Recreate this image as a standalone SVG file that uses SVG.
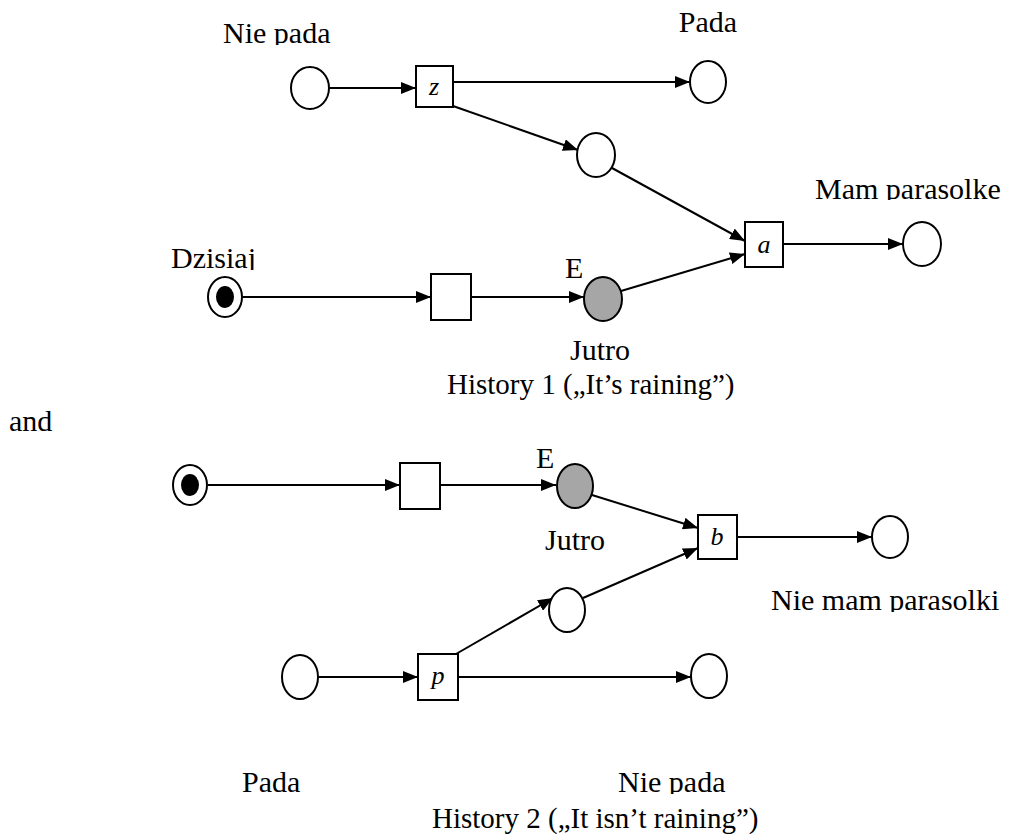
<svg xmlns="http://www.w3.org/2000/svg" width="1016" height="834" viewBox="0 0 1016 834">
  <style>
    .place { fill: #fff; stroke: #000; stroke-width: 2; }
    .grey { fill: #a6a6a6; stroke: #000; stroke-width: 2; }
    .trans { fill: #fff; stroke: #000; stroke-width: 2; }
    .arc { fill: none; stroke: #000; stroke-width: 2; marker-end: url(#arrow); }
    text { font-family: "Liberation Serif", "Times New Roman", serif; font-size: 30px; fill: #000; }
    .lbl { font-style: italic; text-anchor: middle; font-size: 26px; }
    .caption { font-size: 29px; }
  </style>
  <defs>
    <marker id="arrow" viewBox="0 0 15 12" refX="15" refY="6" markerWidth="15" markerHeight="12" markerUnits="userSpaceOnUse" orient="auto">
      <path d="M0,0 L15,6 L0,12 Z" fill="#000"/>
    </marker>
    <!-- label boxes that cut off descenders -->
    <clipPath id="cut-niepada1"><rect x="0" y="0" width="1016" height="45"/></clipPath>
    <clipPath id="cut-mam"><rect x="0" y="150" width="1016" height="50"/></clipPath>
    <clipPath id="cut-dzisiaj"><rect x="0" y="230" width="1016" height="40"/></clipPath>
    <clipPath id="cut-niemam"><rect x="0" y="570" width="1016" height="42"/></clipPath>
    <clipPath id="cut-niepada2"><rect x="0" y="750" width="1016" height="44"/></clipPath>
  </defs>
  <rect width="1016" height="834" fill="#fff"/>

  <!-- History 1 -->
  <g id="connectors1">
    <line class="arc" x1="329" y1="88" x2="416" y2="88"/>
    <line class="arc" x1="453" y1="82" x2="690" y2="82"/>
    <line class="arc" x1="453" y1="106" x2="578" y2="150"/>
    <line class="arc" x1="612" y1="168" x2="745" y2="241"/>
    <line class="arc" x1="783" y1="244" x2="903" y2="244"/>
    <line class="arc" x1="243" y1="297" x2="431" y2="297"/>
    <line class="arc" x1="471" y1="297" x2="584" y2="297"/>
    <line class="arc" x1="621" y1="291" x2="745" y2="254"/>
  </g>
  <g id="p-niepada1">
    <ellipse class="place" cx="310" cy="88" rx="19" ry="21"/>
    <text x="223" y="43" clip-path="url(#cut-niepada1)">Nie pada</text>
  </g>
  <g id="t-z">
    <rect class="trans" x="416" y="66" width="37" height="41"/>
    <text class="lbl" x="434" y="95">z</text>
  </g>
  <g id="p-pada1">
    <ellipse class="place" cx="708" cy="82" rx="18" ry="21"/>
    <text x="708" y="32" text-anchor="middle">Pada</text>
  </g>
  <g id="p-mid1">
    <ellipse class="place" cx="596" cy="155" rx="19" ry="22"/>
  </g>
  <g id="t-a">
    <rect class="trans" x="745" y="222" width="38" height="45"/>
    <text class="lbl" x="764" y="253">a</text>
  </g>
  <g id="p-mam">
    <ellipse class="place" cx="922" cy="244" rx="19" ry="22"/>
    <text x="815" y="199" clip-path="url(#cut-mam)">Mam parasolke</text>
  </g>
  <g id="p-dzisiaj1">
    <ellipse class="place" cx="225" cy="297" rx="17" ry="20"/>
    <ellipse cx="225" cy="297" rx="9" ry="11" fill="#000"/>
    <text x="171" y="268" clip-path="url(#cut-dzisiaj)">Dzisiaj</text>
  </g>
  <g id="t-1">
    <rect class="trans" x="431" y="274" width="40" height="46"/>
  </g>
  <g id="p-jutro1">
    <ellipse class="grey" cx="603" cy="299" rx="19" ry="22"/>
    <text x="565" y="278">E</text>
    <text x="570" y="360">Jutro</text>
  </g>
  <text class="caption" x="447" y="394">History 1 („It’s raining”)</text>
  <text x="9" y="431">and</text>

  <!-- History 2 -->
  <g id="connectors2">
    <line class="arc" x1="208" y1="485" x2="400" y2="485"/>
    <line class="arc" x1="440" y1="485" x2="556" y2="485"/>
    <line class="arc" x1="592" y1="495" x2="698" y2="528"/>
    <line class="arc" x1="737" y1="537" x2="872" y2="537"/>
    <line class="arc" x1="456" y1="654" x2="553" y2="598"/>
    <line class="arc" x1="583" y1="598" x2="698" y2="548"/>
    <line class="arc" x1="318" y1="677" x2="418" y2="677"/>
    <line class="arc" x1="458" y1="677" x2="691" y2="677"/>
  </g>
  <g id="p-dzisiaj2">
    <ellipse class="place" cx="190" cy="485" rx="17" ry="20"/>
    <ellipse cx="190" cy="485" rx="9" ry="11" fill="#000"/>
  </g>
  <g id="t-2">
    <rect class="trans" x="400" y="463" width="40" height="46"/>
  </g>
  <g id="p-jutro2">
    <ellipse class="grey" cx="575" cy="486" rx="18" ry="22"/>
    <text x="536" y="468">E</text>
    <text x="545" y="550">Jutro</text>
  </g>
  <g id="t-b">
    <rect class="trans" x="698" y="515" width="39" height="44"/>
    <text class="lbl" x="717" y="545">b</text>
  </g>
  <g id="p-niemam">
    <ellipse class="place" cx="890" cy="537" rx="18" ry="21"/>
    <text x="771" y="610" clip-path="url(#cut-niemam)">Nie mam parasolki</text>
  </g>
  <g id="p-mid2">
    <ellipse class="place" cx="567" cy="610" rx="18" ry="22"/>
  </g>
  <g id="p-pada2">
    <ellipse class="place" cx="300" cy="677" rx="18" ry="22"/>
    <text x="242" y="792">Pada</text>
  </g>
  <g id="t-p">
    <rect class="trans" x="418" y="654" width="40" height="46"/>
    <text class="lbl" x="438" y="684">p</text>
  </g>
  <g id="p-niepada2">
    <ellipse class="place" cx="709" cy="676" rx="18" ry="22"/>
    <text x="618" y="792" clip-path="url(#cut-niepada2)">Nie pada</text>
  </g>
  <text class="caption" x="432" y="828">History 2 („It isn’t raining”)</text>
</svg>
